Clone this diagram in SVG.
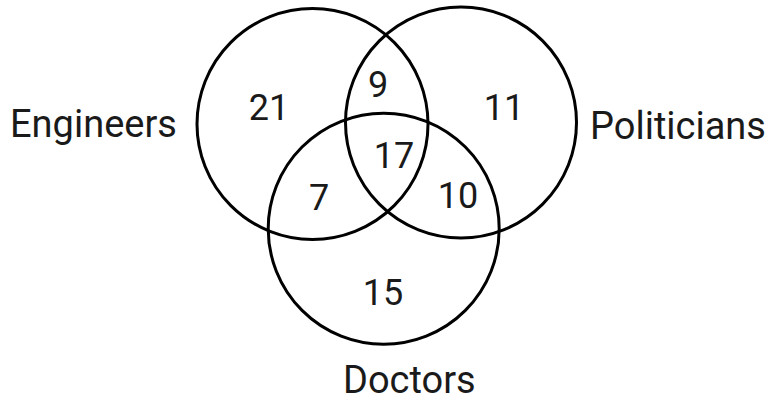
<svg xmlns="http://www.w3.org/2000/svg" width="771" height="403" viewBox="0 0 771 403">
<style>
.c{fill:none;stroke:#000;stroke-width:3}
.lbl{font-family:Roboto,"Liberation Sans",sans-serif;font-size:38px;fill:#1a1a1a}
.num{font-family:Roboto,"Liberation Sans",sans-serif;font-size:36px;fill:#1a1a1a;text-anchor:middle}
</style>
<rect width="771" height="403" fill="#fff"/>
<g id="engineers"><circle class="c" cx="312.5" cy="124" r="115.5"/><text class="lbl" x="10" y="137">Engineers</text></g>
<g id="politicians"><circle class="c" cx="461" cy="122.5" r="115.5"/><text class="lbl" x="590" y="139">Politicians</text></g>
<g id="doctors"><circle class="c" cx="383.7" cy="228.7" r="115.5"/><text class="lbl" x="343" y="393">Doctors</text></g>
<g id="regions">
<text class="num" x="269" y="120">21</text>
<text class="num" x="378" y="97">9</text>
<text class="num" x="504" y="120">11</text>
<text class="num" x="394" y="168">17</text>
<text class="num" x="319" y="210">7</text>
<text class="num" x="458" y="208">10</text>
<text class="num" x="383" y="305">15</text>
</g>
</svg>
